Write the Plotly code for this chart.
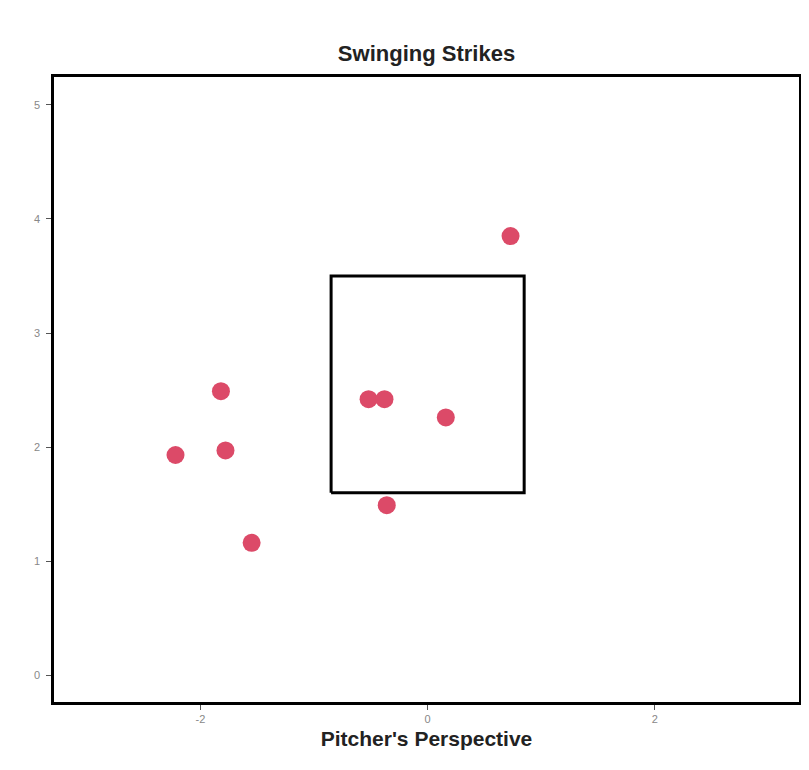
import plotly.graph_objects as go

# Pitch locations (feet, pitcher's perspective)
plate_x = [0.73, -1.82, -2.22, -1.78, -1.55, -0.52, -0.38, 0.16, -0.36]
plate_z = [3.85, 2.49, 1.93, 1.97, 1.16, 2.42, 2.42, 2.26, 1.49]

# Strike zone outline
zone_x = [-0.85, 0.85, 0.85, -0.85, -0.85]
zone_z = [1.6, 1.6, 3.5, 3.5, 1.6]

x_ticks = [-2, 0, 2]
x_labels = ["-2", "0", "2"]
y_ticks = [0, 1, 2, 3, 4, 5]

fig = go.Figure()

# Strike zone box
fig.add_trace(go.Scatter(
    x=zone_x, y=zone_z, mode="lines",
    line=dict(color="black", width=3),
    hoverinfo="skip", showlegend=False,
))

# Swinging strikes
fig.add_trace(go.Scatter(
    x=plate_x, y=plate_z, mode="markers",
    marker=dict(color="#DC4A68", size=18, line=dict(width=0)),
    showlegend=False,
))

axis_common = dict(
    showgrid=False, zeroline=False,
    showline=True, linecolor="black", linewidth=2.5, mirror=True,
    ticks="outside", ticklen=5, tickcolor="#555555", tickwidth=1,
    tickfont=dict(family="Liberation Sans, Arial", size=11, color="#888888"),
)

# page body adds 8px margin, so figure is sized to fit the window without scrollbars
fig.update_layout(
    width=794, height=754,
    paper_bgcolor="white", plot_bgcolor="white",
    margin=dict(l=46, r=0, t=69, b=60),
    title=dict(
        text="<b>Swinging Strikes</b>", x=0.5, xref="paper", xanchor="center",
        y=1 - 45 / 754, yanchor="middle",
        font=dict(family="Liberation Sans, Arial", size=22, color="#222222"),
    ),
    font=dict(family="Liberation Sans, Arial"),
)

fig.update_xaxes(
    range=[-3.29, 3.27], tickvals=x_ticks, ticktext=x_labels,
    title=dict(text="<b>Pitcher's Perspective</b>", standoff=8,
               font=dict(family="Liberation Sans, Arial", size=21, color="#222222")),
    **axis_common,
)
fig.update_yaxes(range=[-0.236, 5.245], tickvals=y_ticks, ticklabelstandoff=4,
                 **axis_common)

fig.write_html("out.html")
